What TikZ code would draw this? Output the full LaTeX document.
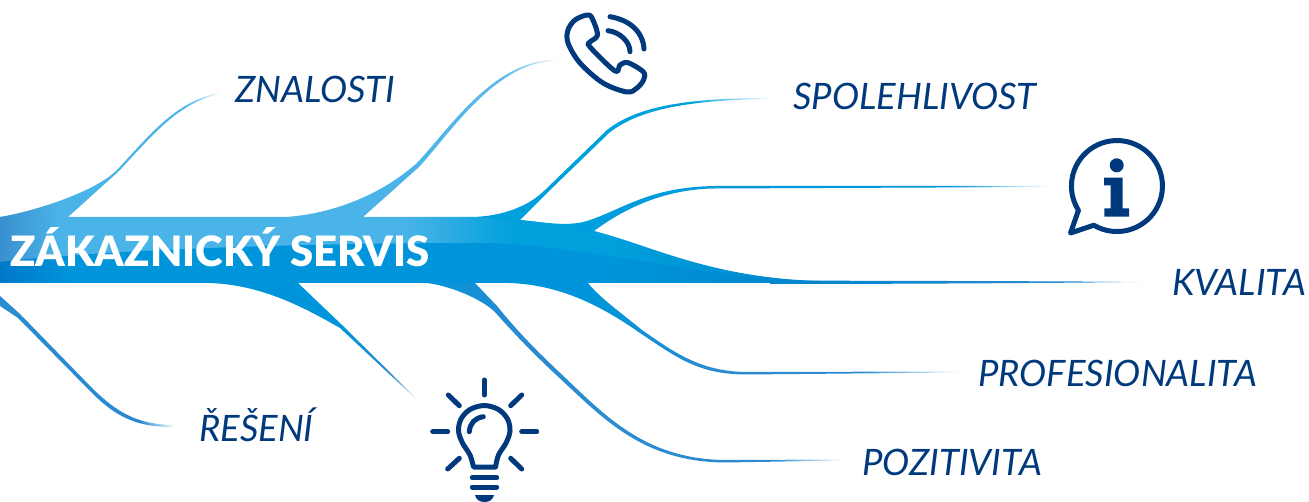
\documentclass[tikz,border=0pt]{standalone}
\usepackage{fontspec}
\setmainfont{Lato}
\newfontfamily\ttlfont{Lato Black}
\definecolor{ink}{HTML}{003A7D}
\definecolor{lA}{HTML}{3A8FD0}
\definecolor{lB}{HTML}{4AB4E8}
\definecolor{lC}{HTML}{5CB8EA}
\definecolor{cA}{HTML}{00A0DC}
\definecolor{cB}{HTML}{0095DA}
\definecolor{cC}{HTML}{0085CC}
\definecolor{cD}{HTML}{2A8BD0}
\definecolor{cE}{HTML}{0078C8}
\pgfdeclarehorizontalshading{shZnal}{100bp}{color(0bp)=(lA);color(25bp)=(lA);color(38.6bp)=(lB);color(67bp)=(lB);color(75bp)=(white);color(100bp)=(white)}
\pgfdeclarehorizontalshading{shPhone}{100bp}{color(0bp)=(lB);color(25bp)=(lB);color(48bp)=(lB);color(65bp)=(lC);color(75bp)=(white);color(100bp)=(white)}
\pgfdeclarehorizontalshading{shSpol}{100bp}{color(0bp)=(cA);color(25bp)=(cA);color(61.7bp)=(cA);color(75bp)=(white);color(100bp)=(white)}
\pgfdeclarehorizontalshading{shInfo}{100bp}{color(0bp)=(cA);color(25bp)=(cA);color(65.7bp)=(cB);color(75bp)=(white);color(100bp)=(white)}
\pgfdeclarehorizontalshading{shKval}{100bp}{color(0bp)=(cC);color(25bp)=(cC);color(65.8bp)=(cD);color(75bp)=(white);color(100bp)=(white)}
\pgfdeclarehorizontalshading{shProf}{100bp}{color(0bp)=(cB);color(25bp)=(cB);color(35bp)=(cB);color(46bp)=(cD);color(63.9bp)=(cD);color(75bp)=(white);color(100bp)=(white)}
\pgfdeclarehorizontalshading{shPoz}{100bp}{color(0bp)=(cB);color(25bp)=(cB);color(36bp)=(cD);color(66bp)=(cD);color(75bp)=(white);color(100bp)=(white)}
\pgfdeclarehorizontalshading{shBulb}{100bp}{color(0bp)=(cB);color(25bp)=(cB);color(56.4bp)=(cB);color(68.5bp)=(cD);color(75bp)=(white);color(100bp)=(white)}
\pgfdeclarehorizontalshading{shRes}{100bp}{color(0bp)=(cD);color(25bp)=(cD);color(65bp)=(cD);color(75bp)=(white);color(100bp)=(white)}
\pgfdeclarehorizontalshading{shUpper}{100bp}{color(0bp)=(lA);color(25bp)=(lA);color(28.7bp)=(lB);color(49.6bp)=(lB);color(56.4bp)=(cA);color(62.5bp)=(cA);color(75bp)=(cC);color(100bp)=(cC)}
\pgfdeclarehorizontalshading{shLower}{100bp}{color(0bp)=(cE);color(25bp)=(cE);color(29.4bp)=(cB);color(62.5bp)=(cB);color(75bp)=(cC);color(100bp)=(cC)}
\tikzset{
  curve/.style={smooth,tension=.55},
  lbl/.style={anchor=base west,inner sep=0pt,text=ink,font=\fontsize{36.4}{36.4}\selectfont\itshape},
  ttl/.style={anchor=base west,inner sep=0pt,text=white,font=\fontsize{41.8}{41.8}\selectfont\ttlfont},
  icon/.style={draw=ink,line width=5pt,line cap=round,line join=round},
}
\begin{document}
\begin{tikzpicture}[x=1pt,y=-1pt]
\useasboundingbox (0,0) rectangle (1309,502);
\fill[white] (0,0) rectangle (1309,502);
% branches
\shade[shading=shZnal] (0,217) .. controls (35,211) and (95,192) .. (117,170) .. controls (152,132) and (178,100) .. (220,93) -- (220,94) .. controls (178,102.5) and (153,135) .. (118,172) -- (68,217) -- (68,230) -- (0,230) -- cycle;
\shade[shading=shPhone] (287,217) .. controls (325,214) and (375,200) .. (417,163) .. controls (450,128) and (495,58) .. (558,60) -- (558,61) .. controls (497,60) and (452,131) .. (419,167) -- (363,217) -- (363,230) -- (287,230) -- cycle;
\shade[shading=shSpol] (473,217) .. controls (505,216) and (530,205) .. (545,190) -- (607,130) .. controls (635,108) and (680,98) .. (770,98) -- (770,99) .. controls (682,100) and (637,111) .. (609,133) -- (546,194) -- (520,220) -- (520,230) -- (473,230) -- cycle;
\shade[shading=shInfo] (520,220) .. controls (550,223) and (570,227) .. (590,220) .. controls (625,208) and (650,187) .. (715,186) -- (1048,186) -- (1048,187) -- (715,188.5) .. controls (665,189) and (625,208) .. (594,231) -- (520,240) -- cycle;
\shade[shading=shKval] (770,280.5) .. controls (900,281) and (1050,281) .. (1148,282) .. controls (1050,283) and (900,284) .. (770,284) -- cycle;
\shade[shading=shProf] (510,283) .. controls (560,285) and (600,305) .. (640,333) .. controls (680,360) and (700,374) .. (745,374.5) -- (960,372.5) -- (960,371.5) -- (745,372) .. controls (700,371) and (675,353) .. (642,330) .. controls (620,312) and (600,298) .. (588,283) -- (588,275) -- (510,275) -- cycle;
\shade[shading=shPoz] (427,283) .. controls (450,286) and (480,298) .. (495,312) .. controls (515,335) and (535,355) .. (553,372) .. controls (600,415) and (640,462) .. (725,462.5) -- (845,460.5) -- (845,459.5) -- (725,460) .. controls (642,459) and (603,413) .. (556,369) .. controls (538,352) and (518,332) .. (497,306) -- (475,283) -- (475,275) -- (427,275) -- cycle;
\shade[shading=shBulb] (210,283) .. controls (260,285) and (300,305) .. (340,328) -- (417,400) -- (417,399) -- (342,325) -- (298,283) -- (298,275) -- (210,275) -- cycle;
\shade[shading=shRes] (0,296) -- (20,314) -- (93,389) .. controls (115,410) and (135,425) .. (175,425) -- (175,427) .. controls (133,428) and (112,413) .. (91,392) -- (18,318) -- (0,306) -- cycle;
% trunk
\shade[shading=shUpper] (0,217) -- (473,217) -- (520,220) .. controls (550,223) and (570,227) .. (594,231) .. controls (650,245) and (710,278) .. (820,281) -- (820,283) -- (0,283) -- cycle;
\shade[shading=shLower] (0,262) .. controls (100,250) and (300,243) .. (480,243) .. controls (560,243) and (640,265) .. (800,283) -- (0,283) -- cycle;
% labels
\node[ttl] (title) at (10,266.5) {ZÁKAZNICKÝ SERVIS};
\node[lbl] (znalosti) at (235,103) {ZNALOSTI};
\node[lbl] (spol) at (793,110) {SPOLEHLIVOST};
\node[lbl] (kvalita) at (1172,296) {KVALITA};
\node[lbl] (prof) at (978,387) {PROFESIONALITA};
\node[lbl] (poz) at (862,475) {POZITIVITA};
\node[lbl] (reseni) at (199,441) {ŘEŠENÍ};
% phone
\draw[icon] plot[smooth cycle,tension=.55] coordinates {(568,30)(575,20)(587,15)(592,18)(597.5,35)(590,42)(590,47)(615,71)(620,65)(628,62.7)(643.5,72)(643.5,80)(637,88)(627,92)(603,83)(580,63)(568,43)};
\draw[icon] (610,16.7) .. controls (630,20) and (643,32) .. (644,49);
\draw[icon] (608,30.7) .. controls (620,32) and (630,42) .. (630,51.7);
% info
\draw[icon] (1093.8,225.2) arc[start angle=120.6,end angle=-212.2,radius=45.5] -- (1070.5,233) -- cycle;
\fill[ink] (1116.7,165.3) circle (7);
\fill[ink] (1104,177.7) -- (1122.7,177.7) -- (1122.7,208.3) -- (1129,208.3) -- (1129,216.7) -- (1104.3,216.7) -- (1104.3,208.3) -- (1110.7,208.3) -- (1110.7,185.3) -- (1104,185.3) -- cycle;
% bulb
\draw[icon] plot[curve] coordinates {(473.5,467)(470,455)(462.5,443)(458.5,431)(461,419)(470,409.5)(484.3,405.5)(498.5,409.5)(507.5,419)(510,431)(506,443)(498.5,455)(495.5,467)} -- cycle;
\draw[icon] (469.3,431.7) .. controls (470,423) and (475,418) .. (483.3,416.7);
\draw[icon] (484.3,380) -- (484.3,395);
\draw[icon] (448.3,395) -- (459.3,405.7);
\draw[icon] (521.7,395) -- (510.7,405.7);
\draw[icon] (432.7,431.7) -- (447.7,431.7);
\draw[icon] (521.7,431.7) -- (536.7,431.7);
\draw[icon] (447.7,469) -- (459.3,458.3);
\draw[icon] (521.7,469) -- (510.7,458.3);
\draw[icon] (472.3,477.7) -- (496.7,477.7);
\draw[icon] (472.3,487) -- (496.7,487);
\fill[ink] (475,495) -- (494,495) .. controls (493,500) and (489,502) .. (484.5,502) .. controls (480,502) and (476,500) .. (475,495) -- cycle;
\end{tikzpicture}
\end{document}
